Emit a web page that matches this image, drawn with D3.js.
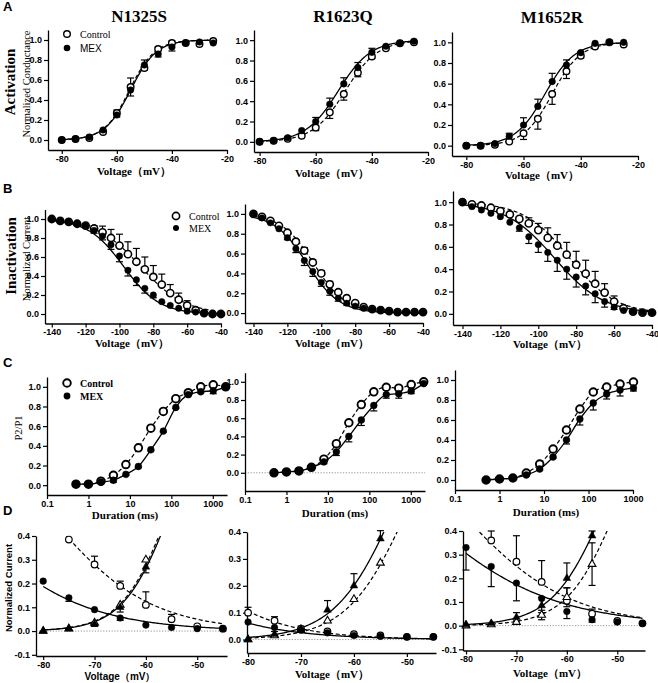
<!DOCTYPE html>
<html><head><meta charset="utf-8">
<script src="https://cdn.jsdelivr.net/npm/d3@7"></script>
<style>body{margin:0;background:#fff}</style>
</head><body>
<svg id="chart" width="658" height="683"></svg>
<script>
// ---------------- DATA ----------------
const mutants = ["N1325S", "R1623Q", "M1652R"];
const voltAct = [-80,-75,-70,-65,-60,-55,-50,-45,-40,-35,-30,-25];
const voltInact = [-140,-135,-130,-125,-120,-115,-110,-105,-100,-95,-90,-85,-80,-75,-70,-65,-60,-55,-50,-45,-40];
const durLong = [0.5,1,2,4,8,16,32,64,128,256,512,1024,2048];
const durShort = [0.5,1,2,4,8,16,32,64,128,256,512,1024];
const voltWin = [-80,-75,-70,-65,-60,-55,-50,-45];

const xTicksAct = [-80,-60,-40,-20];
const xTicksInact = [-140,-120,-100,-80,-60,-40];
const xTicksDur = [0.1,1,10,100,1000];
const xTicksWin = [-80,-70,-60,-50];
const yTicksUnit = [0,0.2,0.4,0.6,0.8,1.0];
const yTicksWin = [-0.1,0,0.1,0.2,0.3,0.4];
const yTicksWin2 = [0,0.1,0.2,0.3,0.4];

// A: activation
const a1Ctrl = [0.00,0.01,0.02,0.08,0.27,0.53,0.72,0.91,0.97,0.97,0.96,0.99];
const a1CtrlErr = [0,0,0,0,0.03,0.09,0.08,0.02,0.02,0,0,0];
const a1Mex = [0.00,0.01,0.03,0.10,0.25,0.50,0.75,0.86,0.93,0.97,0.98,0.97];
const a1MexErr = [0,0,0,0,0.02,0.06,0.05,0.03,0.04,0,0,0];
const a2Ctrl = [0.00,0.01,0.03,0.06,0.14,0.29,0.47,0.68,0.84,0.92,0.97,0.98];
const a2CtrlErr = [0,0,0,0,0.03,0.06,0.06,0.04,0.02,0,0,0];
const a2Mex = [0.00,0.01,0.04,0.11,0.20,0.37,0.57,0.73,0.88,0.94,0.97,0.99];
const a2MexErr = [0,0,0,0,0.04,0.06,0.06,0.05,0.04,0,0,0];
const a3Ctrl = [0.00,0.00,0.01,0.04,0.12,0.26,0.50,0.72,0.87,0.96,1.00,0.98];
const a3CtrlErr = [0,0,0,0,0.06,0.10,0.10,0.07,0.02,0,0,0];
const a3Mex = [0.00,0.00,0.02,0.09,0.20,0.38,0.62,0.78,0.90,0.99,1.00,1.00];
const a3MexErr = [0,0,0,0.03,0.07,0.07,0.08,0.05,0.01,0,0,0];
// Boltzmann fit parameters [V1/2, k]
const a1FitCtrl = [-55.4, 4.6], a1FitMex = [-55.0, 4.7];
const a2FitCtrl = [-49.5, 5.8], a2FitMex = [-52.0, 5.8];
const a3FitCtrl = [-50.0, 5.0], a3FitMex = [-52.5, 5.2];

// B: inactivation
const b1Ctrl = [1.00,0.98,0.97,0.95,0.93,0.90,0.86,0.80,0.72,0.63,0.55,0.47,0.39,0.31,0.22,0.15,0.09,0.04,0.01,0.00,0.00];
const b1CtrlErr = [0,0,0,0,0,0.03,0.065,0.09,0.12,0.13,0.14,0.13,0.12,0.11,0.09,0.07,0.05,0,0,0,0];
const b1Mex = [1.00,0.98,0.97,0.95,0.93,0.88,0.82,0.73,0.61,0.46,0.36,0.27,0.20,0.13,0.09,0.06,0.03,0.02,0.01,0.00,0.00];
const b1MexErr = [0,0,0,0,0,0.03,0.04,0.05,0.06,0.06,0.06,0.05,0.03,0.01,0,0,0,0,0,0,0];
const b2Ctrl = [1.00,0.97,0.93,0.88,0.81,0.72,0.63,0.51,0.40,0.29,0.21,0.15,0.10,0.06,0.04,0.03,0.02,0.01,0.01,0.01,0.01];
const b2CtrlErr = [0,0,0,0,0.01,0.02,0.03,0.03,0.03,0.03,0.02,0.01,0.01,0,0,0,0,0,0,0,0];
const b2Mex = [1.00,0.96,0.91,0.85,0.76,0.65,0.53,0.42,0.31,0.22,0.15,0.10,0.07,0.05,0.04,0.03,0.02,0.01,0.01,0.01,0.01];
const b2MexErr = [0,0,0,0,0.02,0.04,0.05,0.05,0.04,0.04,0.03,0.02,0.01,0,0,0,0,0,0,0,0];
const b3Ctrl = [1.00,0.98,0.97,0.95,0.92,0.89,0.85,0.81,0.75,0.68,0.61,0.53,0.44,0.36,0.27,0.19,0.11,0.05,0.02,0.01,0.01];
const b3CtrlErr = [0,0,0,0,0,0,0.02,0.05,0.06,0.09,0.10,0.11,0.12,0.12,0.11,0.08,0.05,0.02,0,0,0];
const b3Mex = [1.00,0.96,0.93,0.90,0.87,0.82,0.77,0.69,0.62,0.55,0.48,0.40,0.33,0.25,0.18,0.11,0.06,0.03,0.02,0.01,0.01];
const b3MexErr = [0,0,0,0,0,0,0.03,0.06,0.07,0.08,0.10,0.09,0.09,0.08,0.08,0.05,0.02,0,0,0,0];
const b1FitCtrl = [-87.5, 13.0], b1FitMex = [-97.5, 10.5];
const b2FitCtrl = [-104.5, 9.5], b2FitMex = [-108.5, 9.5];
const b3FitCtrl = [-83.5, 12.0], b3FitMex = [-91.5, 13.0];

// C: recovery (P2/P1)
const c1Ctrl = [0.01,0.01,0.04,0.10,0.21,0.38,0.58,0.75,0.88,0.94,1.00,1.02,1.00];
const c1CtrlErr = [0,0,0,0.01,0.01,0.02,0.02,0.02,0.01,0.01,0.01,0.02,0];
const c1Mex = [0.01,0.01,0.03,0.05,0.11,0.19,0.36,0.55,0.79,0.92,0.95,0.96,1.00];
const c1MexErr = [0,0,0,0.02,0.01,0.01,0.01,0.01,0.01,0.01,0.01,0.03,0];
const c2Ctrl = [0.00,0.01,0.02,0.06,0.15,0.32,0.55,0.75,0.89,0.94,0.93,0.97,1.00];
const c2CtrlErr = [0,0,0,0,0.01,0.02,0.02,0.02,0.01,0.01,0.02,0.01,0];
const c2Mex = [0.00,0.01,0.02,0.06,0.12,0.23,0.40,0.58,0.74,0.86,0.87,0.90,0.98];
const c2MexErr = [0,0,0,0,0.02,0.04,0.06,0.06,0.06,0.04,0.05,0.03,0];
const c3Ctrl = [0.00,0.01,0.02,0.07,0.16,0.31,0.50,0.71,0.88,0.93,0.96,0.98];
const c3CtrlErr = [0,0,0,0,0,0.01,0.01,0.01,0.01,0.01,0.01,0.01];
const c3Mex = [0.00,0.01,0.02,0.05,0.11,0.23,0.40,0.61,0.77,0.86,0.90,0.92];
const c3MexErr = [0,0,0,0.01,0.01,0.01,0.04,0.06,0.07,0.05,0.06,0.03];

// D: window (overlap of activation / inactivation)
const d1InCtrl = [null,0.385,0.28,0.19,0.11,0.05,0.02,0.01];
const d1InCtrlErr = [0,0,0.035,0.02,0.055,0.02,0,0];
const d1InMex = [0.21,0.14,0.09,0.055,0.025,0.015,0.01,0.01];
const d1InMexErr = [0,0.015,0,0.01,0,0,0,0];
const d1ActCtrl = [0.00,0.01,0.035,0.11,0.30,null,null,null];
const d1ActCtrlErr = [0,0,0,0,0,0,0,0];
const d1ActMex = [0.00,0.01,0.03,0.10,0.27,null,null,null];
const d1ActMexErr = [0,0,0.01,0.02,0.025,0,0,0];
const d2InCtrl = [0.10,0.07,0.04,0.03,0.02,0.015,0.01,0.01];
const d2InCtrlErr = [0.02,0.015,0,0,0,0,0,0];
const d2InMex = [0.065,0.045,0.035,0.025,0.015,0.012,0.01,0.01];
const d2InMexErr = [0,0,0,0,0,0,0,0];
const d2ActCtrl = [0.00,0.015,0.035,0.07,0.15,0.285,null,null];
const d2ActCtrlErr = [0,0,0,0,0,0,0,0];
const d2ActMex = [0.00,0.02,0.04,0.11,0.20,0.375,null,null];
const d2ActMexErr = [0,0.01,0.01,0.035,0.045,0.03,0,0];
const d3InCtrl = [null,0.36,0.27,0.185,0.105,0.05,0.02,0.01];
const d3InCtrlErr = [0,0.04,0.11,0.09,0.055,0.02,0,0];
const d3InMex = [0.33,0.25,0.18,0.115,0.06,0.025,0.015,0.01];
const d3InMexErr = [0.095,0.085,0.075,0.06,0.03,0.01,0,0];
const d3ActCtrl = [0.00,0.005,0.015,0.045,0.12,0.26,null,null];
const d3ActCtrlErr = [0,0,0.005,0.02,0.04,0.09,0,0];
const d3ActMex = [0.005,0.01,0.035,0.085,0.20,0.38,null,null];
const d3ActMexErr = [0,0,0.02,0.035,0.065,0.02,0,0];
const d1FitInCtrl = [-79.5, 10.0], d1FitInMex = [-97.0, 11.6];
const d1FitActCtrl = [-55.6, 4.6], d1FitActMex = [-55.3, 4.6];
const d2FitInCtrl = [-100.5, 9.6], d2FitInMex = [-110.0, 11.0];
const d2FitActCtrl = [-49.5, 5.8], d2FitActMex = [-52.0, 5.8];
const d3FitInCtrl = [-82.0, 11.0], d3FitInMex = [-91.0, 13.4];
const d3FitActCtrl = [-50.0, 5.0], d3FitActMex = [-52.5, 5.2];

// ---------------- DRAWING ----------------
const svg = d3.select("#chart");
const SERIF = "'Liberation Serif','Times New Roman',serif";
const SANS = "'Liberation Sans',Arial,sans-serif";
const act = p => v => 1 / (1 + Math.exp((p[0] - v) / p[1]));
const inact = p => v => 1 / (1 + Math.exp((v - p[0]) / p[1]));

let clipN = 0;
function drawPanel(c) {
  const g = svg.append("g");
  const x = (c.log ? d3.scaleLog() : d3.scaleLinear()).domain(c.xd).range(c.xr);
  const y = d3.scaleLinear().domain(c.yd).range(c.yr);
  const id = "clip" + (clipN++);
  g.append("clipPath").attr("id", id).append("rect")
    .attr("x", c.xr[0]).attr("y", c.yr[1])
    .attr("width", c.xr[1] - c.xr[0]).attr("height", c.yr[0] - c.yr[1]);
  if (c.zero) {
    g.append("line").attr("x1", c.xr[0]).attr("x2", c.xr[1])
      .attr("y1", y(0)).attr("y2", y(0))
      .attr("stroke", "#888").attr("stroke-width", 0.9).attr("stroke-dasharray", "1.2,1.6");
  }
  const ax = g.append("g").attr("transform", `translate(0,${c.yr[0]})`)
    .call(d3.axisBottom(x).tickValues(c.xt).tickSize(4).tickSizeOuter(0).tickPadding(1.5)
      .tickFormat(v => String(v)));
  const ay = g.append("g").attr("transform", `translate(${c.xr[0]},0)`)
    .call(d3.axisLeft(y).tickValues(c.yt).tickSize(4).tickSizeOuter(0).tickPadding(2)
      .tickFormat(v => v.toFixed(1)));
  [ax, ay].forEach(a => {
    a.select(".domain").attr("stroke", "#000").attr("stroke-width", 1.3);
    a.selectAll(".tick line").attr("stroke", "#000").attr("stroke-width", 1.2);
    a.selectAll("text").attr("font-family", SANS).attr("font-weight", "bold")
      .attr("font-size", 9).attr("fill", "#000");
  });
  const lg = g.append("g").attr("clip-path", `url(#${id})`);
  c.curves.forEach(cv => {
    let pts;
    if (cv.fn) pts = d3.range(cv.from, cv.to + 1e-9, 0.25).map(v => [v, cv.fn(v)]);
    else pts = cv.xs.map((v, i) => [v, cv.ys[i]]).filter(p => p[1] != null);
    const line = d3.line().x(p => x(p[0])).y(p => y(p[1]))
      .curve(cv.fn ? d3.curveLinear : d3.curveMonotoneX);
    lg.append("path").attr("d", line(pts)).attr("fill", "none").attr("stroke", "#000")
      .attr("stroke-width", cv.dash ? 1.2 : 1.3)
      .attr("stroke-dasharray", cv.dash ? "4,2.5" : null);
  });
  const cap = c.cap || 3.5;
  c.series.forEach(s => {
    const eg = g.append("g").attr("stroke", "#000").attr("stroke-width", 1.2);
    s.ys.forEach((v, i) => {
      if (v == null || !s.err || !s.err[i]) return;
      const px = x(s.xs[i]);
      const ends = s.dir === "both" ? [v + s.err[i], v - s.err[i]]
        : [s.dir === "up" ? v + s.err[i] : v - s.err[i]];
      ends.forEach(e => {
        eg.append("line").attr("x1", px).attr("x2", px).attr("y1", y(v)).attr("y2", y(e));
        eg.append("line").attr("x1", px - cap).attr("x2", px + cap).attr("y1", y(e)).attr("y2", y(e));
      });
    });
  });
  c.series.forEach(s => {
    const mg = g.append("g");
    s.ys.forEach((v, i) => {
      if (v == null) return;
      const px = x(s.xs[i]), py = y(v);
      if (s.shape === "tri") {
        mg.append("path").attr("d", d3.symbol().type(d3.symbolTriangle).size(s.size || 26)())
          .attr("transform", `translate(${px},${py})`)
          .attr("fill", s.filled ? "#000" : "#fff").attr("stroke", "#000").attr("stroke-width", s.filled ? 0.5 : 1.1);
      } else {
        mg.append("circle").attr("cx", px).attr("cy", py).attr("r", s.r)
          .attr("fill", s.filled ? "#000" : "#fff").attr("stroke", "#000")
          .attr("stroke-width", s.filled ? 0.5 : (s.sw || 1.4));
      }
    });
  });
}

function actPanel(xd, xr, yr, ctrl, ctrlErr, ctrlDir, mex, mexErr, mexDir, fc, fm) {
  drawPanel({
    xd, xr, yd: [-0.1, 1.1], yr, xt: xTicksAct, yt: yTicksUnit,
    curves: [{ fn: act(fc), from: -80, to: -25, dash: true }, { fn: act(fm), from: -80, to: -25 }],
    series: [
      { xs: voltAct, ys: ctrl, err: ctrlErr, dir: ctrlDir, r: 3.3, sw: 1.4 },
      { xs: voltAct, ys: mex, err: mexErr, dir: mexDir, r: 3.3, filled: true }
    ]
  });
}
actPanel([-85, -20], [48, 227], [150, 30], a1Ctrl, a1CtrlErr, "up", a1Mex, a1MexErr, "down", a1FitCtrl, a1FitMex);
actPanel([-82, -20], [254, 428], [152, 30], a2Ctrl, a2CtrlErr, "down", a2Mex, a2MexErr, "up", a2FitCtrl, a2FitMex);
actPanel([-85, -20], [452, 638], [156, 32], a3Ctrl, a3CtrlErr, "down", a3Mex, a3MexErr, "up", a3FitCtrl, a3FitMex);

function inactPanel(xd, xr, yr, ctrl, ctrlErr, mex, mexErr, fc, fm) {
  drawPanel({
    xd, xr, yd: [-0.1, 1.1], yr, xt: xTicksInact, yt: yTicksUnit,
    curves: [{ fn: inact(fc), from: -140, to: -40, dash: true }, { fn: inact(fm), from: -140, to: -40 }],
    series: [
      { xs: voltInact, ys: ctrl, err: ctrlErr, dir: "up", r: 3.6, sw: 1.6 },
      { xs: voltInact, ys: mex, err: mexErr, dir: "down", r: 3.2, filled: true }
    ]
  });
}
inactPanel([-144, -40], [45, 221], [323.5, 209.5], b1Ctrl, b1CtrlErr, b1Mex, b1MexErr, b1FitCtrl, b1FitMex);
inactPanel([-145, -40], [245, 423], [323, 204], b2Ctrl, b2CtrlErr, b2Mex, b2MexErr, b2FitCtrl, b2FitMex);
inactPanel([-145, -40], [453, 652], [325, 191], b3Ctrl, b3CtrlErr, b3Mex, b3MexErr, b3FitCtrl, b3FitMex);

function recPanel(xd, xr, yd, yr, dur, ctrl, ctrlErr, mex, mexErr, zero) {
  drawPanel({
    log: true, xd, xr, yd, yr, xt: xTicksDur, yt: yTicksUnit, zero,
    curves: [{ xs: dur, ys: ctrl, dash: true }, { xs: dur, ys: mex }],
    series: [
      { xs: dur, ys: ctrl, err: ctrlErr, dir: "up", r: 3.8, sw: 1.9 },
      { xs: dur, ys: mex, err: mexErr, dir: "down", r: 3.4, filled: true }
    ]
  });
}
recPanel([0.1, 2200], [47, 227], [-0.1, 1.1], [495, 377], durLong, c1Ctrl, c1CtrlErr, c1Mex, c1MexErr, false);
recPanel([0.1, 2200], [245, 425], [-0.2, 1.1], [491, 372.7], durLong, c2Ctrl, c2CtrlErr, c2Mex, c2MexErr, true);
recPanel([0.1, 1000], [455, 633], [-0.1, 1.1], [490, 370], durShort, c3Ctrl, c3CtrlErr, c3Mex, c3MexErr, false);

function winPanel(xd, xr, yd, yr, yt, D) {
  drawPanel({
    xd, xr, yd, yr, xt: xTicksWin, yt, zero: true, cap: 3.5,
    curves: [
      { fn: inact(D.fic), from: -80, to: -45, dash: true },
      { fn: inact(D.fim), from: -80, to: -45 },
      { fn: act(D.fac), from: -80, to: -45, dash: true },
      { fn: act(D.fam), from: -80, to: -45 }
    ],
    series: [
      { xs: voltWin, ys: D.ic, err: D.ice, dir: "up", r: 3.3, sw: 1.2 },
      { xs: voltWin, ys: D.ac, err: D.ace, dir: D.acDir || "up", shape: "tri" },
      { xs: voltWin, ys: D.im, err: D.ime, dir: "down", r: 3.3, filled: true },
      { xs: voltWin, ys: D.am, err: D.ame, dir: D.amDir || "up", shape: "tri", filled: true }
    ]
  });
}
winPanel([-81.4, -44.2], [36, 227], [-0.105, 0.4], [656, 536], yTicksWin,
  { ic: d1InCtrl, ice: d1InCtrlErr, im: d1InMex, ime: d1InMexErr, ac: d1ActCtrl, ace: d1ActCtrlErr,
    am: d1ActMex, ame: d1ActMexErr, amDir: "down", fic: d1FitInCtrl, fim: d1FitInMex, fac: d1FitActCtrl, fam: d1FitActMex });
winPanel([-80.2, -44.5], [247, 436], [-0.05, 0.4], [653, 532], yTicksWin2,
  { ic: d2InCtrl, ice: d2InCtrlErr, im: d2InMex, ime: d2InMexErr, ac: d2ActCtrl, ace: d2ActCtrlErr,
    am: d2ActMex, ame: d2ActMexErr, fic: d2FitInCtrl, fim: d2FitInMex, fac: d2FitActCtrl, fam: d2FitActMex });
winPanel([-80.6, -44.5], [463, 645], [-0.105, 0.4], [650.5, 531], yTicksWin,
  { ic: d3InCtrl, ice: d3InCtrlErr, im: d3InMex, ime: d3InMexErr, ac: d3ActCtrl, ace: d3ActCtrlErr, acDir: "both",
    am: d3ActMex, ame: d3ActMexErr, fic: d3FitInCtrl, fim: d3FitInMex, fac: d3FitActCtrl, fam: d3FitActMex });

// ---------------- TEXT ----------------
function txt(t, x, y, o) {
  return svg.append("text").attr("x", x).attr("y", y).text(t)
    .attr("font-family", o.f || SERIF).attr("font-size", o.s || 11)
    .attr("font-weight", o.b ? "bold" : "normal").attr("fill", "#000")
    .attr("text-anchor", o.a || "middle");
}
function vtxt(t, x, y, o) {
  return svg.append("g").attr("transform", `translate(${x},${y}) rotate(-90)`)
    .append("text").attr("x", 0).attr("y", 0).text(t)
    .attr("font-family", o.f || SERIF).attr("font-size", o.s || 11)
    .attr("font-weight", o.b ? "bold" : "normal").attr("fill", "#000")
    .attr("text-anchor", "middle");
}
// panel letters
[["A", 3, 11], ["B", 3, 193], ["C", 3, 367], ["D", 3, 515]].forEach(p =>
  txt(p[0], p[1], p[2], { f: SANS, s: 13, b: true, a: "start" }));
// mutant titles
txt(mutants[0], 139, 22, { s: 17, b: true });
txt(mutants[1], 343, 22, { s: 17, b: true });
txt(mutants[2], 552, 23, { s: 17, b: true });
// row labels
vtxt("Activation", 15, 82, { s: 15, b: true });
vtxt("Normalized Conductance", 30, 84, { s: 10.5 });
vtxt("Inactivation", 16, 256, { s: 15, b: true });
vtxt("Normalized Current", 30, 259, { s: 10.5 });
vtxt("P2/P1", 22, 428, { s: 10.5 });
vtxt("Normalized Current", 12, 588, { f: SANS, s: 9.5, b: true });
// x-axis titles
txt("Voltage（mV）", 134, 175, { s: 11, b: true });
txt("Voltage（mV）", 332, 176.5, { s: 11, b: true });
txt("Voltage（mV）", 542, 179, { s: 11, b: true });
txt("Voltage（mV）", 132, 346.5, { s: 11, b: true });
txt("Voltage（mV）", 332, 347, { s: 11, b: true });
txt("Voltage（mV）", 550, 348, { s: 11, b: true });
txt("Duration (ms)", 125, 519, { s: 11, b: true });
txt("Duration (ms)", 335, 517, { s: 11, b: true });
txt("Duration (ms)", 546, 516, { s: 11, b: true });
txt("Voltage（mV）", 120, 680, { f: SANS, s: 10, b: true });
txt("Voltage（mV）", 332, 678, { s: 11, b: true });
txt("Voltage（mV）", 550, 677, { s: 11, b: true });

// legends
function legend(x, y1, y2, openR, openSW, fillR, ctrlFont, mexFont, bold) {
  svg.append("circle").attr("cx", x).attr("cy", y1).attr("r", openR).attr("fill", "#fff")
    .attr("stroke", "#000").attr("stroke-width", openSW);
  svg.append("circle").attr("cx", x).attr("cy", y2).attr("r", fillR).attr("fill", "#000");
  txt("Control", x + 13, y1 + 3.5, { f: ctrlFont, s: 10, b: bold, a: "start" });
  txt("MEX", x + 13, y2 + 3.5, { f: mexFont, s: 10, b: bold, a: "start" });
}
legend(67, 34, 48, 3.3, 1.4, 3.3, SERIF, SANS, false);
legend(176, 216, 228, 3.6, 1.6, 3.0, SERIF, SERIF, false);
legend(67, 383, 396, 3.8, 1.9, 3.4, SERIF, SERIF, true);
</script>
</body></html>
